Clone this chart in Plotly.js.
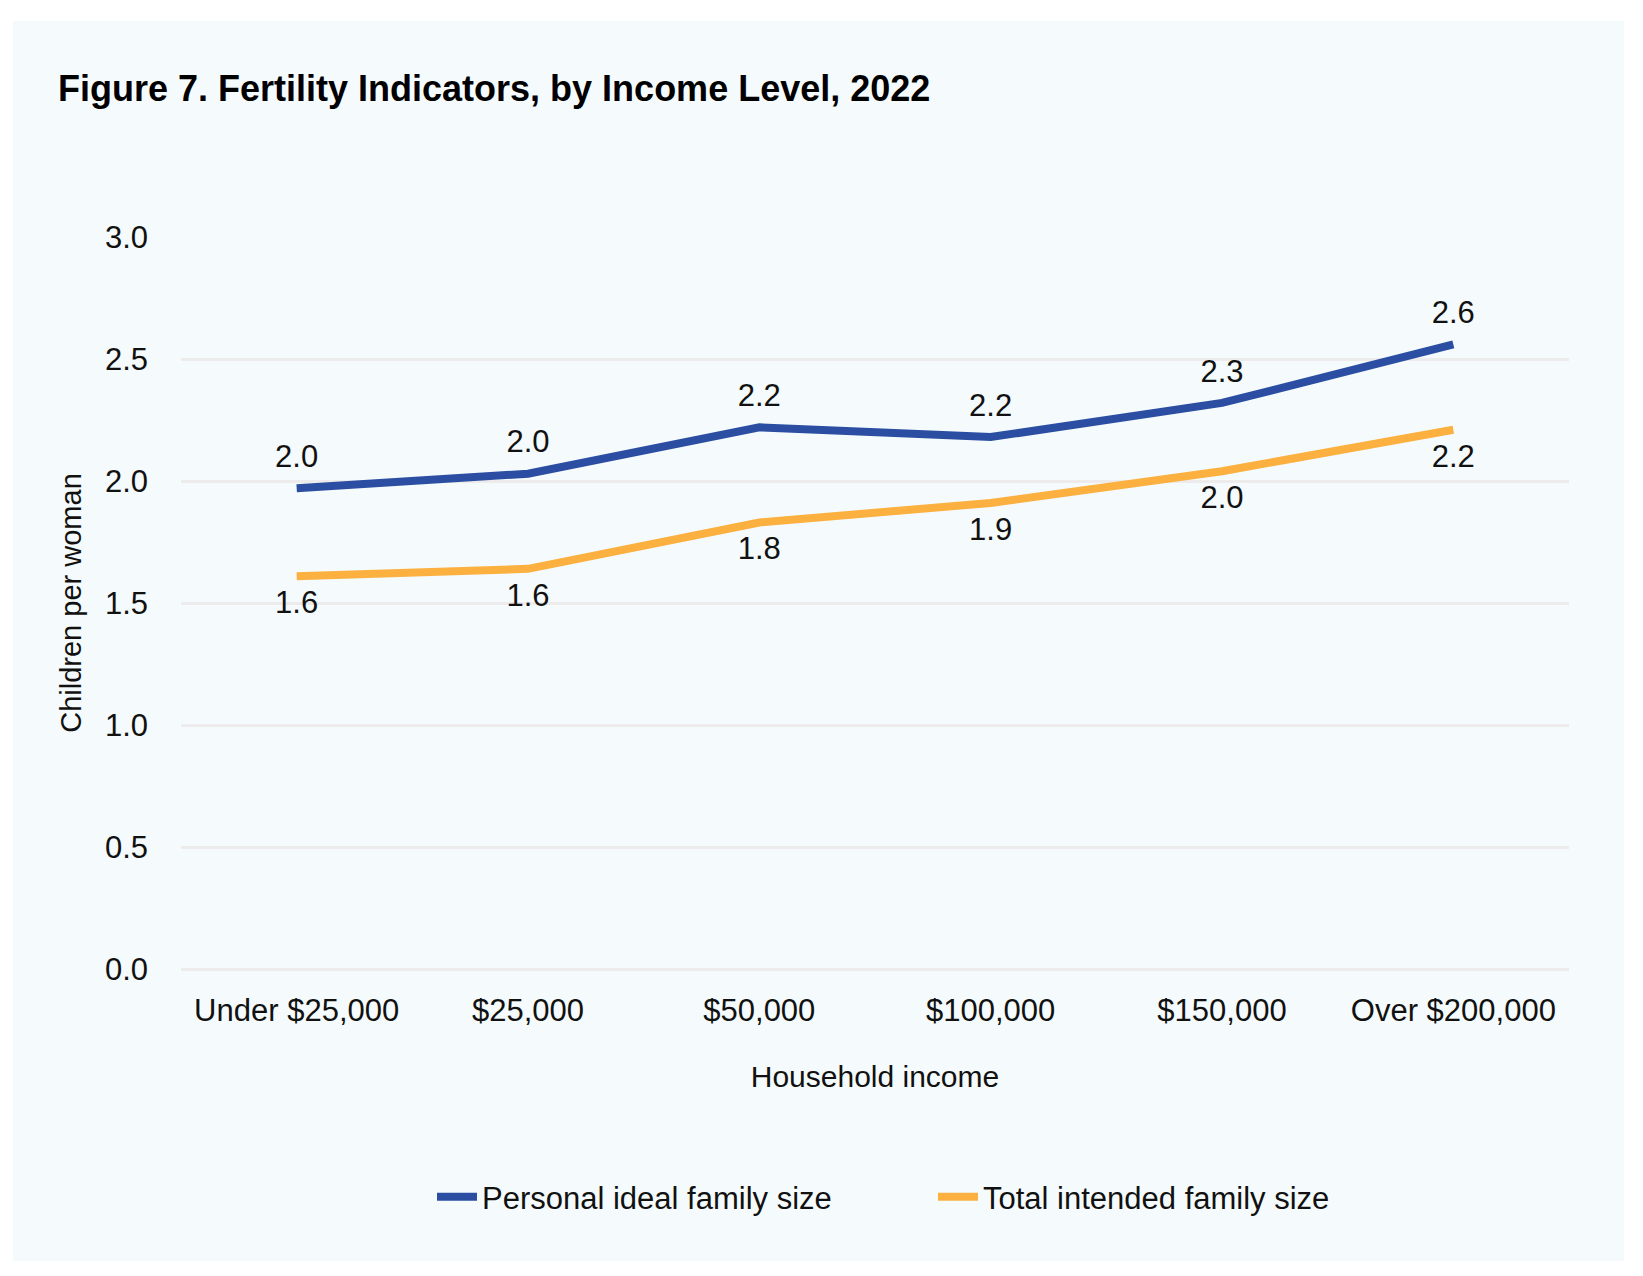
<!DOCTYPE html>
<html>
<head>
<meta charset="utf-8">
<script src="https://cdn.plot.ly/plotly-3.0.1.min.js"></script>
<style>
  html, body { margin: 0; padding: 0; background: #ffffff; }
  #chart { width: 1643px; height: 1276px; }
</style>
</head>
<body>
<div id="chart"></div>
<script>
const categories = ["Under $25,000", "$25,000", "$50,000", "$100,000", "$150,000", "Over $200,000"];
const idealFamilySize = [1.97, 2.03, 2.22, 2.18, 2.32, 2.56];
const intendedFamilySize = [1.61, 1.64, 1.83, 1.91, 2.04, 2.21];
const yTickValues = [0, 0.5, 1, 1.5, 2, 2.5, 3];
const yTickLabels = ["0.0", "0.5", "1.0", "1.5", "2.0", "2.5", "3.0"];

const FONT = '"Liberation Sans", Arial, sans-serif';
const BLUE = '#2B4EA2';
const ORANGE = '#FBB040';

const traces = [
  {
    x: categories, y: idealFamilySize, name: 'Personal ideal family size',
    type: 'scatter', mode: 'lines+markers+text',
    line: { color: BLUE, width: 8 },
    marker: { size: 20, color: 'rgba(0,0,0,0)' },
    texttemplate: '%{y:.1f}', textposition: 'top center',
    textfont: { family: FONT, size: 31, color: '#111111' },
    hoverinfo: 'skip', cliponaxis: false
  },
  {
    x: categories, y: intendedFamilySize, name: 'Total intended family size',
    type: 'scatter', mode: 'lines+markers+text',
    line: { color: ORANGE, width: 8 },
    marker: { size: 20, color: 'rgba(0,0,0,0)' },
    texttemplate: '%{y:.1f}', textposition: 'bottom center',
    textfont: { family: FONT, size: 31, color: '#111111' },
    hoverinfo: 'skip', cliponaxis: false
  }
];

const L = 181, R = 74, T = 237, B = 307;
const W = 1643 - L - R, H = 1276 - T - B;
const px = v => (v - L) / W;
const py = v => (1276 - B - v) / H;

const layout = {
  width: 1643, height: 1276,
  margin: { l: L, r: R, t: T, b: B },
  paper_bgcolor: '#ffffff',
  plot_bgcolor: 'rgba(0,0,0,0)',
  font: { family: FONT, color: '#111111' },
  title: {
    text: '<b>Figure 7. Fertility Indicators, by Income Level, 2022</b>',
    font: { family: FONT, size: 36, color: '#000000' },
    xref: 'container', yref: 'container',
    x: 58 / 1643, xanchor: 'left',
    y: 1 - 88 / 1276, yanchor: 'middle'
  },
  xaxis: {
    type: 'category',
    range: [-0.5, categories.length - 0.5],
    showgrid: false, zeroline: false, showline: false,
    ticks: '', ticklabelstandoff: 20,
    tickfont: { family: FONT, size: 31, color: '#111111' },
    title: { text: 'Household income', font: { family: FONT, size: 30, color: '#111111' }, standoff: 38 },
    fixedrange: true
  },
  yaxis: {
    range: [0, 3],
    tickvals: yTickValues, ticktext: yTickLabels,
    showgrid: true, gridcolor: '#EDEBEB', gridwidth: 3,
    zeroline: true, zerolinecolor: '#EDEBEB', zerolinewidth: 3,
    showline: false, ticks: '', ticklabelstandoff: 32,
    tickfont: { family: FONT, size: 31, color: '#111111' },
    title: { text: 'Children per woman', font: { family: FONT, size: 29, color: '#111111' }, standoff: 14 },
    fixedrange: true
  },
  showlegend: true,
  legend: {
    orientation: 'h',
    x: px(432), xanchor: 'left',
    y: py(1197), yanchor: 'middle',
    font: { family: FONT, size: 31, color: '#111111' },
    bgcolor: 'rgba(0,0,0,0)',
    itemwidth: 40,
    entrywidth: 446, entrywidthmode: 'pixels',
    traceorder: 'normal'
  },
  shapes: [
    {
      type: 'rect', xref: 'paper', yref: 'paper', layer: 'below',
      x0: px(13), x1: px(1624), y0: py(1261), y1: py(21),
      fillcolor: '#F5FBFC', line: { width: 0 }
    }
  ]
};

Plotly.newPlot('chart', traces, layout, { staticPlot: true, displayModeBar: false });
</script>
</body>
</html>
